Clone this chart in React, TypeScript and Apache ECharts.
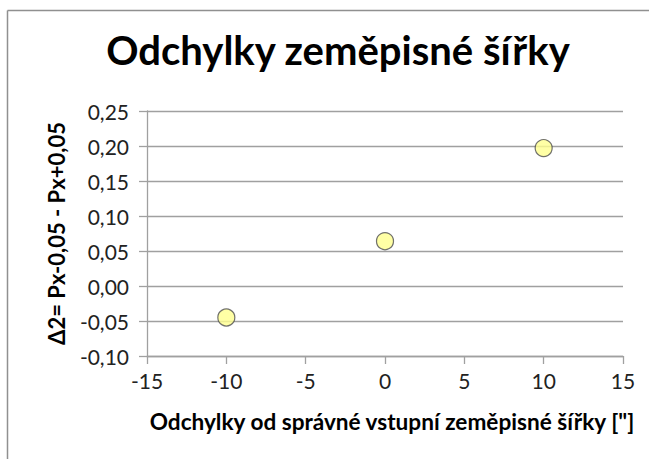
import React, { useEffect, useRef } from "react";
import * as echarts from "echarts";

const titleText = "Odchylky zeměpisné šířky";
const xAxisTitle = "Odchylky od správné vstupní zeměpisné šířky [\"]";
const yAxisTitle = "Δ2= Px-0,05 - Px+0,05";
const xValues = [-10, 0, 10];
const yValues = [-0.045, 0.064, 0.197];

const FONT = "Lato, 'Open Sans', sans-serif";

export default function App() {
  const ref = useRef<HTMLDivElement>(null);
  useEffect(() => {
    if (!ref.current) return;
    const chart = echarts.init(ref.current, null, { renderer: "svg" });
    const data = xValues.map((x, i) => [x, yValues[i]]);
    chart.setOption({
      animation: false,
      backgroundColor: "#ffffff",
      title: {
        text: titleText,
        left: 333,
        top: 25,
        textAlign: "center",
        textStyle: { fontFamily: FONT, fontSize: 40, fontWeight: "bold", color: "#000" },
      },
      grid: { left: 147, right: 26, top: 111, bottom: 103, containLabel: false },
      xAxis: {
        type: "value",
        min: -15,
        max: 15,
        interval: 5,
        name: xAxisTitle,
        nameLocation: "middle",
        nameGap: 54,
        nameTextStyle: {
          fontFamily: FONT,
          fontSize: 22.6,
          fontWeight: "bold",
          color: "#000",
          padding: [0, 0, 0, 14],
        },
        axisLine: { show: true, onZero: false, lineStyle: { color: "#a0a0a0", width: 1.3 } },
        axisTick: { show: true, length: 8, lineStyle: { color: "#a0a0a0", width: 1.3 } },
        axisLabel: {
          fontFamily: FONT,
          fontSize: 21,
          color: "#222",
          margin: 14,
          formatter: (v: number) => String(v),
        },
        splitLine: { show: false },
      },
      yAxis: {
        type: "value",
        min: -0.1,
        max: 0.25,
        interval: 0.05,
        name: yAxisTitle,
        nameLocation: "middle",
        nameGap: 80,
        nameRotate: 90,
        nameTextStyle: { fontFamily: FONT, fontSize: 22, fontWeight: "bold", color: "#000" },
        axisLine: { show: true, onZero: false, lineStyle: { color: "#a0a0a0", width: 1.3 } },
        axisTick: { show: true, length: 8, lineStyle: { color: "#a0a0a0", width: 1.3 } },
        axisLabel: {
          fontFamily: FONT,
          fontSize: 21,
          color: "#222",
          margin: 18,
          formatter: (v: number) => v.toFixed(2).replace(".", ","),
        },
        splitLine: { show: true, lineStyle: { color: "#a0a0a0", width: 1.3 } },
      },
      graphic: [
        {
          type: "line",
          shape: { x1: 7.5, y1: 10.5, x2: 649, y2: 10.5 },
          style: { stroke: "#909090", lineWidth: 1.5 },
          silent: true,
        },
        {
          type: "line",
          shape: { x1: 7.5, y1: 10.5, x2: 7.5, y2: 459 },
          style: { stroke: "#909090", lineWidth: 1.5 },
          silent: true,
        },
      ],
      series: [
        {
          type: "scatter",
          data,
          symbol: "circle",
          symbolSize: 17,
          itemStyle: { color: "#ffff8f", borderColor: "#4d4d4d", borderWidth: 1.2 },
        },
      ],
    });
    return () => chart.dispose();
  }, []);
  return (
    <div
      ref={ref}
      style={{ position: "absolute", left: 0, top: 0, width: 649, height: 459 }}
    />
  );
}
